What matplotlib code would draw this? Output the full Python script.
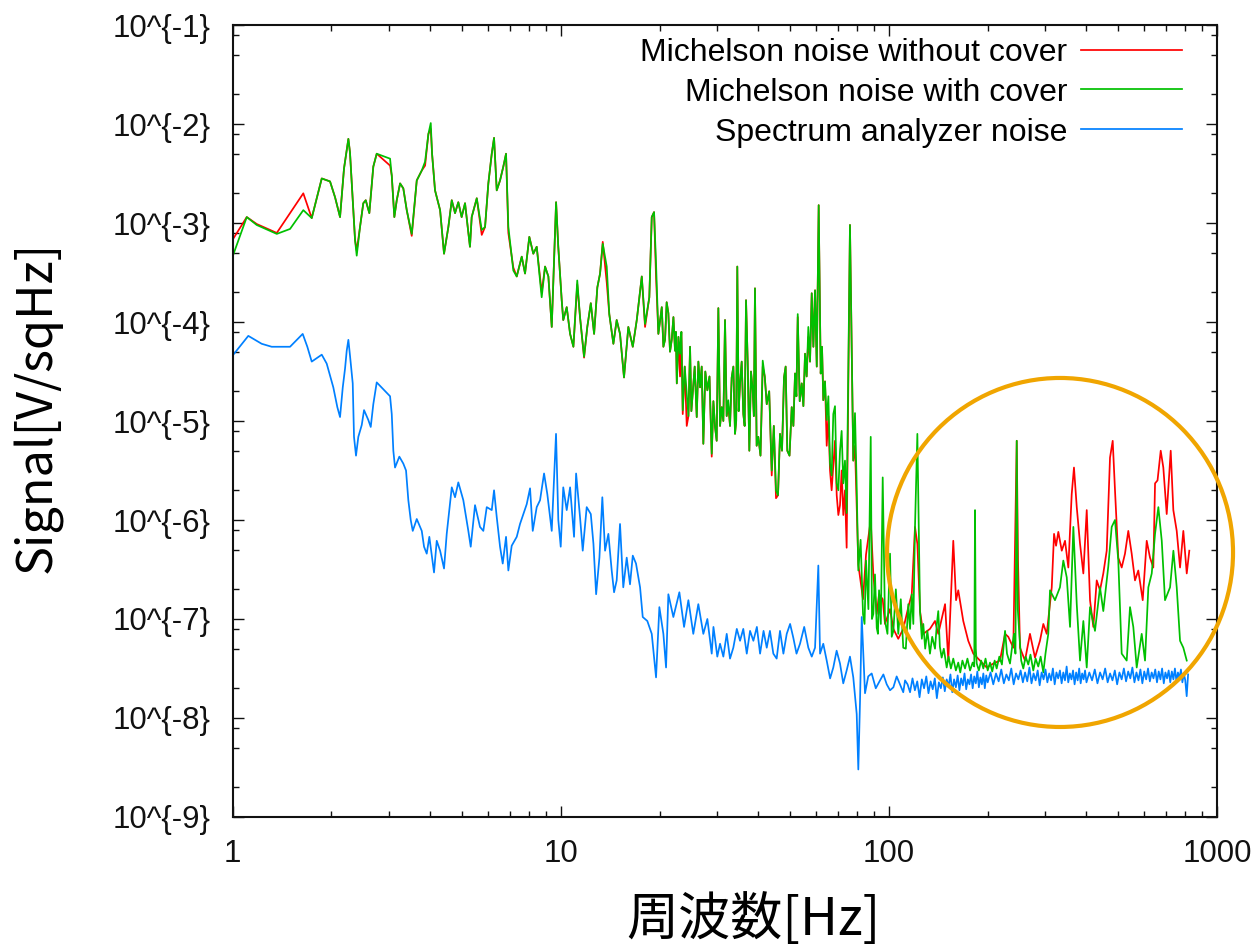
import numpy as np
import matplotlib
matplotlib.use("Agg")
import matplotlib.pyplot as plt
from matplotlib.ticker import LogLocator, NullFormatter
from matplotlib.patches import Ellipse

plt.rcParams["font.family"] = ["Liberation Sans", "Noto Sans CJK JP", "DejaVu Sans"]

# ---------------------------------------------------------------------------
# Amplitude spectral densities, stored as (frequency [Hz], log10(signal [V/sqHz]))
# Below 75 Hz both Michelson traces share the same frequency bins:
# (frequency, without cover, with cover)
michelson_low = [
    (1.00, -3.17, -3.34), (1.105, -2.94, -2.94), (1.185, -3.01, -3.02),
    (1.364, -3.10, -3.11), (1.497, -2.90, -3.06), (1.643, -2.70, -2.87),
    (1.743, -2.95, -2.95), (1.870, -2.55, -2.55), (1.982, -2.58, -2.58),
    (2.053, -2.74, -2.74), (2.126, -2.94, -2.94), (2.186, -2.45, -2.45),
    (2.254, -2.15, -2.15), (2.280, -2.29, -2.29), (2.362, -3.17, -3.17),
    (2.390, -3.28, -3.33), (2.446, -3.04, -3.04), (2.503, -2.80, -2.80),
    (2.546, -2.77, -2.77), (2.611, -2.90, -2.90), (2.685, -2.43, -2.43),
    (2.750, -2.30, -2.30), (3.020, -2.42, -2.35), (3.056, -2.52, -2.52),
    (3.090, -2.77, -2.77), (3.112, -2.94, -2.94), (3.165, -2.77, -2.77),
    (3.240, -2.60, -2.60), (3.314, -2.65, -2.65), (3.395, -2.87, -2.87),
    (3.516, -3.13, -3.11), (3.642, -2.57, -2.57), (3.772, -2.47, -2.47),
    (3.861, -2.42, -2.38), (3.952, -2.10, -2.10), (4.018, -2.05, -1.99),
    (4.055, -2.30, -2.30), (4.140, -2.67, -2.67), (4.290, -2.87, -2.87),
    (4.410, -3.31, -3.31), (4.546, -3.04, -3.04), (4.656, -2.77, -2.77),
    (4.764, -2.90, -2.90), (4.875, -2.79, -2.79), (4.990, -2.94, -2.94),
    (5.110, -2.80, -2.80), (5.290, -3.24, -3.24), (5.355, -2.94, -2.94),
    (5.549, -2.75, -2.75), (5.746, -3.12, -3.07), (5.881, -3.04, -3.04),
    (6.018, -2.60, -2.60), (6.164, -2.30, -2.30), (6.264, -2.14, -2.14),
    (6.383, -2.67, -2.67), (6.533, -2.57, -2.57), (6.685, -2.43, -2.43),
    (6.814, -2.30, -2.30), (6.925, -3.10, -3.04), (7.171, -3.45, -3.48),
    (7.345, -3.54, -3.54), (7.607, -3.34, -3.34), (7.786, -3.51, -3.51),
    (8.023, -3.14, -3.14), (8.250, -3.31, -3.31), (8.450, -3.24, -3.24),
    (8.750, -3.70, -3.75), (8.960, -3.44, -3.44), (9.170, -3.54, -3.54),
    (9.390, -4.05, -4.05), (9.680, -2.79, -2.79), (9.830, -3.24, -3.24),
    (10.07, -3.78, -3.78), (10.18, -3.98, -3.98), (10.43, -3.85, -3.85),
    (10.68, -4.12, -4.12), (10.93, -4.25, -4.25), (11.23, -3.62, -3.58),
    (11.45, -3.95, -3.95), (11.78, -4.36, -4.35), (12.05, -4.05, -4.05),
    (12.35, -3.81, -3.81), (12.64, -4.12, -4.12), (12.93, -3.65, -3.65),
    (13.18, -3.51, -3.51), (13.43, -3.19, -3.21), (13.81, -3.60, -3.44),
    (14.06, -3.92, -3.92), (14.47, -4.22, -4.22), (14.81, -3.98, -3.98),
    (15.16, -4.12, -4.12), (15.59, -4.56, -4.56), (16.07, -4.05, -4.05),
    (16.58, -4.25, -4.25), (17.05, -3.98, -3.98), (17.66, -3.54, -3.54),
    (18.07, -4.05, -4.02), (18.62, -3.75, -3.75), (18.94, -2.94, -2.94),
    (19.25, -2.89, -2.89), (19.52, -3.55, -3.41), (19.84, -4.12, -4.12),
    (20.32, -3.85, -3.85), (20.55, -4.25, -4.25), (20.79, -4.18, -4.18),
    (21.03, -3.80, -3.80), (21.28, -3.91, -3.91), (21.53, -4.30, -4.30),
    (21.79, -4.18, -4.18), (22.05, -3.95, -3.95), (22.30, -4.29, -4.29),
    (22.44, -4.10, -4.10), (22.58, -4.62, -4.62), (22.84, -4.15, -4.15),
    (23.10, -4.55, -4.32), (23.32, -4.10, -4.10), (23.54, -4.93, -4.89),
    (23.87, -4.45, -4.45), (24.21, -5.05, -4.72), (24.50, -4.95, -4.95),
    (24.78, -4.25, -4.25), (25.01, -4.90, -4.90), (25.25, -4.72, -4.72),
    (25.60, -4.45, -4.45), (25.97, -4.96, -4.96), (26.27, -4.40, -4.40),
    (26.58, -4.66, -4.66), (26.89, -4.45, -4.45), (27.20, -5.23, -5.23),
    (27.58, -4.50, -4.50), (27.98, -4.69, -4.69), (28.40, -4.55, -4.55),
    (28.85, -5.36, -5.33), (29.19, -4.80, -4.80), (29.53, -5.06, -5.06),
    (29.87, -5.20, -5.20), (30.22, -3.86, -3.86), (30.58, -5.05, -5.05),
    (30.95, -4.86, -4.86), (31.30, -5.00, -5.00), (31.67, -3.98, -3.98),
    (32.04, -4.95, -4.95), (32.41, -4.85, -4.79), (32.80, -5.05, -5.05),
    (33.19, -4.56, -4.56), (33.58, -4.45, -4.45), (33.97, -5.13, -5.13),
    (34.25, -5.00, -5.00), (34.52, -3.44, -3.44), (34.85, -4.90, -4.90),
    (35.19, -4.62, -4.62), (35.60, -4.40, -4.40), (36.01, -4.93, -4.93),
    (36.35, -5.05, -5.05), (36.70, -3.78, -3.78), (37.13, -4.40, -4.40),
    (37.56, -5.30, -5.30), (38.00, -4.50, -4.50), (38.46, -4.69, -4.69),
    (38.77, -4.95, -4.95), (39.08, -3.66, -3.66), (39.54, -5.25, -5.25),
    (40.00, -5.16, -5.16), (40.62, -5.35, -5.35), (41.26, -4.45, -4.39),
    (41.85, -4.55, -4.55), (42.44, -4.83, -4.83), (43.18, -4.70, -4.70),
    (43.95, -5.55, -5.50), (44.60, -5.05, -5.05), (45.29, -5.78, -5.70),
    (45.93, -5.75, -5.75), (46.58, -5.13, -5.13), (47.24, -5.30, -5.30),
    (47.91, -4.56, -4.56), (48.46, -4.45, -4.45), (49.03, -5.30, -5.30),
    (49.79, -5.35, -5.35), (50.57, -4.86, -4.86), (51.16, -5.05, -5.05),
    (51.76, -4.52, -4.52), (52.25, -4.75, -4.75), (52.75, -3.95, -3.92),
    (53.49, -4.80, -4.80), (54.25, -4.62, -4.62), (54.88, -4.85, -4.85),
    (55.52, -4.32, -4.32), (56.16, -4.55, -4.55), (56.82, -4.15, -4.05),
    (57.50, -4.40, -4.40), (58.19, -3.71, -3.71), (58.87, -4.25, -4.25),
    (59.56, -3.68, -3.68), (60.28, -4.45, -4.45), (61.10, -2.82, -2.82),
    (61.98, -4.52, -4.52), (62.55, -4.25, -4.25), (63.12, -4.79, -4.79),
    (63.87, -4.60, -4.60), (64.64, -5.25, -4.99), (65.40, -4.95, -4.75),
    (66.16, -5.50, -5.43), (66.92, -5.70, -5.55), (67.70, -5.45, -4.93),
    (68.51, -5.20, -4.85), (69.34, -5.75, -5.63), (70.14, -5.95, -5.70),
    (70.96, -5.85, -5.30), (71.78, -5.50, -5.10), (72.62, -5.95, -5.63),
    (73.48, -5.70, -5.40), (74.35, -6.28, -5.93),
]

# Above 75 Hz: (frequency, log10 signal)
without_cover_high = [
    (76.1, -3.02), (77.89, -5.40), (78.83, -5.25), (80.69, -6.45), (83.39, -6.80),
    (85.17, -6.35), (88.03, -6.00), (89.65, -6.55), (91.82, -6.95), (93.32, -6.75),
    (95.75, -6.80), (97.3, -7.05), (100.8, -6.90), (103.2, -7.10), (106.8, -7.20),
    (110.6, -7.10), (114.6, -6.88), (117.4, -6.75), (120.1, -6.07), (122.1, -6.24),
    (124.4, -6.92), (127.3, -7.15), (133.4, -7.10), (138.2, -7.02), (141.4, -7.15),
    (148.3, -6.85), (151.7, -7.42), (157.1, -6.21), (160.2, -6.81), (162.7, -6.71),
    (168.5, -7.02), (174.5, -7.22), (180.8, -7.35), (189.5, -7.42), (198.6, -7.49),
    (208.0, -7.45), (218.0, -7.42), (225.9, -7.15), (231.1, -7.18), (239.4, -7.29),
    (245.2, -5.20), (247.4, -6.41), (250.9, -7.29), (259.8, -7.42), (269.1, -7.15),
    (278.7, -7.39), (288.6, -7.22), (295.5, -7.05), (302.7, -7.15), (313.5, -6.68),
    (318.6, -6.14), (323.1, -6.26), (328.3, -6.12), (336.3, -6.31), (344.1, -6.21),
    (352.2, -6.48), (360.6, -5.74), (366.4, -5.47), (373.6, -5.87), (382.3, -6.24),
    (391.3, -6.54), (400.7, -5.90), (410.1, -6.81), (419.7, -7.08), (429.8, -6.61),
    (439.8, -6.71), (450.1, -6.54), (461.0, -6.31), (471.8, -5.37), (480.8, -5.20),
    (488.6, -5.70), (500.0, -6.38), (512.1, -6.48), (524.1, -6.34), (536.4, -6.11),
    (549.3, -6.34), (562.2, -6.61), (575.4, -6.51), (593.5, -6.81), (610.4, -6.21),
    (624.6, -6.38), (639.3, -6.48), (647.1, -5.63), (658.5, -5.60), (673.4, -5.30),
    (685.8, -5.47), (702.3, -5.94), (722.3, -5.30), (735.7, -5.90), (753.4, -6.11),
    (771.2, -6.48), (789.2, -6.11), (808.3, -6.54), (823.0, -6.31),
]

with_cover_high = [
    (76.1, -3.02), (77.89, -5.40), (78.83, -4.92), (79.7, -5.60), (80.69, -6.51),
    (82.0, -6.20), (83.39, -6.95), (84.3, -7.05), (85.17, -6.41), (86.6, -6.90),
    (88.03, -5.16), (88.8, -7.00), (89.65, -6.95), (90.7, -6.55), (91.82, -7.09),
    (92.6, -7.15), (93.32, -6.71), (94.5, -7.05), (95.75, -5.57), (97.3, -7.02),
    (99.0, -7.15), (100.8, -6.34), (102.0, -7.18), (103.2, -7.12), (105.0, -6.70),
    (106.8, -7.15), (108.7, -6.80), (110.6, -7.29), (112.6, -7.30), (114.6, -6.85),
    (116.0, -7.10), (117.4, -6.75), (118.7, -7.05), (120.1, -6.07), (122.1, -5.13),
    (124.4, -6.92), (126.0, -7.20), (127.3, -7.05), (129.0, -7.30), (131.0, -7.12),
    (133.4, -7.35), (135.5, -7.18), (138.2, -7.30), (140.0, -7.05), (141.4, -6.92),
    (143.0, -7.28), (144.8, -7.39), (147.0, -7.30), (150.0, -7.49), (152.0, -7.38),
    (154.5, -7.50), (157.1, -7.40), (160.0, -7.52), (162.7, -7.44), (165.0, -7.54),
    (167.5, -7.42), (170.6, -7.50), (173.5, -7.40), (176.7, -7.52), (180.0, -7.44),
    (182.0, -7.48), (183.0, -5.90), (184.0, -7.30), (185.2, -7.45), (188.0, -7.52),
    (191.0, -7.42), (194.0, -7.50), (197.0, -7.40), (200.0, -7.52), (203.3, -7.44),
    (206.5, -7.53), (210.0, -7.42), (213.0, -7.50), (217.0, -7.38), (221.0, -7.46),
    (225.9, -7.12), (229.0, -7.35), (233.9, -7.45), (237.0, -7.30), (240.6, -7.15),
    (243.0, -7.35), (245.2, -5.20), (247.0, -6.90), (249.7, -7.15), (253.0, -7.42),
    (256.8, -7.50), (261.0, -7.38), (265.9, -7.46), (270.0, -7.36), (275.4, -7.52),
    (280.0, -7.40), (285.2, -7.48), (290.0, -7.38), (295.5, -7.54), (300.0, -7.35),
    (306.0, -7.15), (309.7, -6.71), (320.7, -6.81), (332.1, -6.68),
    (340.0, -6.41), (348.3, -6.58), (356.4, -7.08), (364.8, -6.07), (373.6, -6.85),
    (382.3, -7.42), (391.3, -7.02), (400.7, -7.49), (410.1, -6.88), (424.6, -7.12),
    (439.8, -6.68), (450.1, -6.92), (466.1, -6.47), (477.4, -6.07), (488.6, -6.00),
    (500.0, -6.41), (512.1, -7.35), (530.4, -7.42), (542.9, -6.88), (555.6, -7.08),
    (569.0, -7.49), (589.3, -7.15), (603.2, -7.42), (617.4, -6.68), (632.3, -6.54),
    (647.1, -6.14), (662.3, -5.87), (678.3, -6.21), (694.0, -6.81), (719.0, -6.68),
    (736.0, -6.31), (753.4, -6.68), (771.2, -7.22), (789.2, -7.29), (808.3, -7.42),
]

analyzer = [
    (1.0, -4.34), (1.117, -4.14), (1.227, -4.22), (1.316, -4.25), (1.497, -4.25),
    (1.636, -4.12), (1.69, -4.25), (1.743, -4.40), (1.87, -4.33), (1.936, -4.42),
    (2.028, -4.66), (2.086, -4.86), (2.126, -4.96), (2.167, -4.66), (2.202, -4.47),
    (2.228, -4.29), (2.254, -4.18), (2.28, -4.34), (2.324, -4.62), (2.345, -5.16),
    (2.378, -5.35), (2.417, -5.16), (2.476, -5.04), (2.516, -4.89), (2.593, -4.99),
    (2.637, -5.06), (2.685, -4.83), (2.75, -4.61), (3.02, -4.75), (3.056, -4.93),
    (3.09, -5.30), (3.127, -5.47), (3.223, -5.36), (3.314, -5.43), (3.378, -5.50),
    (3.433, -5.80), (3.491, -6.00), (3.541, -6.11), (3.642, -5.99), (3.772, -6.11),
    (3.833, -6.27), (3.906, -6.34), (3.978, -6.17), (4.111, -6.53), (4.19, -6.21),
    (4.29, -6.31), (4.41, -6.49), (4.494, -6.14), (4.577, -5.90), (4.656, -5.67),
    (4.764, -5.77), (4.875, -5.62), (5.049, -5.80), (5.23, -6.11), (5.318, -6.27),
    (5.481, -5.85), (5.676, -6.07), (5.81, -6.11), (5.951, -5.87), (6.164, -5.90),
    (6.264, -5.70), (6.383, -5.97), (6.533, -6.27), (6.657, -6.44), (6.814, -6.17),
    (6.925, -6.51), (7.09, -6.26), (7.345, -6.17), (7.516, -6.04), (7.693, -5.94),
    (7.878, -5.84), (8.064, -5.68), (8.218, -6.11), (8.45, -5.87), (8.65, -5.80),
    (8.897, -5.53), (9.104, -5.74), (9.389, -6.11), (9.676, -5.13), (9.833, -6.00),
    (10.0, -6.27), (10.18, -5.67), (10.43, -5.90), (10.68, -5.67), (10.98, -6.17),
    (11.14, -5.53), (11.45, -5.97), (11.67, -6.31), (12.0, -5.87), (12.35, -5.94),
    (12.58, -6.24), (12.82, -6.75), (13.12, -6.38), (13.39, -5.77), (13.65, -6.31),
    (13.97, -6.14), (14.3, -6.51), (14.54, -6.73), (14.81, -6.61), (15.16, -6.04),
    (15.51, -6.68), (15.89, -6.38), (16.26, -6.65), (16.58, -6.36), (16.96, -6.44),
    (17.45, -6.68), (17.78, -6.98), (18.36, -7.02), (18.94, -7.15), (19.52, -7.59),
    (19.98, -6.88), (20.55, -7.15), (20.94, -7.49), (21.28, -6.75), (22.04, -6.98),
    (22.99, -6.73), (23.76, -7.08), (24.49, -6.81), (25.35, -7.15), (26.26, -6.85),
    (27.2, -7.15), (27.98, -7.00), (28.85, -7.35), (29.2, -7.08), (29.53, -7.20),
    (30.0, -7.38), (30.58, -7.25), (31.3, -7.38), (32.05, -7.15), (32.8, -7.40),
    (33.57, -7.29), (34.4, -7.10), (35.19, -7.22), (36.0, -7.10), (36.89, -7.35),
    (37.75, -7.12), (38.64, -7.22), (39.6, -7.08), (40.5, -7.35), (41.5, -7.12),
    (42.44, -7.29), (43.4, -7.12), (44.45, -7.35), (45.5, -7.40), (46.58, -7.12),
    (47.7, -7.35), (48.83, -7.15), (50.0, -7.05), (51.14, -7.19), (52.3, -7.35),
    (53.6, -7.25), (55.2, -7.08), (56.82, -7.29), (58.2, -7.38), (59.56, -7.29),
    (60.95, -6.46), (61.68, -7.35), (63.1, -7.25), (64.64, -7.42), (66.2, -7.60),
    (67.7, -7.49), (69.3, -7.32), (70.96, -7.45), (72.6, -7.65), (74.35, -7.52),
    (76.1, -7.38), (77.89, -7.59), (79.78, -7.96), (80.69, -8.52), (81.66, -7.83),
    (82.65, -6.98), (84.57, -7.75), (86.5, -7.58), (88.63, -7.55), (91.2, -7.70),
    (93.97, -7.62), (96.2, -7.56), (98.49, -7.66), (100.8, -7.72), (103.2, -7.69),
    (105.6, -7.58), (108.1, -7.66), (110.6, -7.74), (112.0, -7.62),
    # 114-200 Hz
    (114, -7.66), (116, -7.74), (118, -7.60), (120, -7.72), (122, -7.63),
    (124, -7.79), (126, -7.61), (128, -7.70), (130, -7.58), (132, -7.75),
    (134, -7.63), (136, -7.71), (138, -7.60), (140, -7.80), (142, -7.64),
    (144, -7.70), (146, -7.59), (148, -7.73), (150, -7.61), (152, -7.68),
    (154, -7.56), (156, -7.74), (158, -7.61), (160, -7.69), (162, -7.57),
    (164, -7.72), (166, -7.60), (168, -7.67), (170, -7.55), (172, -7.71),
    (174, -7.61), (176, -7.66), (178, -7.56), (180, -7.70), (182, -7.58),
    (184, -7.65), (186, -7.53), (188, -7.69), (190, -7.59), (192, -7.66),
    (194, -7.55), (196, -7.70), (198, -7.57), (200, -7.64),
    # 204-400 Hz
    (204, -7.54), (208, -7.66), (212, -7.55), (216, -7.63), (220, -7.51),
    (224, -7.65), (228, -7.56), (232, -7.62), (236, -7.50), (240, -7.66),
    (244, -7.55), (248, -7.61), (252, -7.52), (256, -7.64), (260, -7.54),
    (264, -7.63), (268, -7.49), (272, -7.65), (276, -7.55), (280, -7.62),
    (284, -7.52), (288, -7.67), (292, -7.54), (296, -7.61), (300, -7.51),
    (304, -7.64), (308, -7.55), (312, -7.62), (316, -7.50), (320, -7.66),
    (324, -7.54), (328, -7.60), (332, -7.52), (336, -7.65), (340, -7.54),
    (344, -7.62), (348, -7.48), (352, -7.64), (356, -7.55), (360, -7.61),
    (364, -7.52), (368, -7.66), (372, -7.54), (376, -7.62), (380, -7.50),
    (384, -7.65), (388, -7.55), (392, -7.61), (396, -7.52), (400, -7.64),
    # 408-816 Hz
    (408, -7.54), (416, -7.62), (424, -7.51), (432, -7.65), (440, -7.54),
    (448, -7.61), (456, -7.50), (464, -7.64), (472, -7.55), (480, -7.62),
    (488, -7.52), (496, -7.66), (504, -7.54), (512, -7.61), (520, -7.50),
    (528, -7.63), (536, -7.53), (544, -7.60), (552, -7.49), (560, -7.64),
    (568, -7.54), (576, -7.62), (584, -7.51), (592, -7.65), (600, -7.53),
    (608, -7.61), (616, -7.50), (624, -7.63), (632, -7.54), (640, -7.60),
    (648, -7.51), (656, -7.64), (664, -7.53), (672, -7.61), (680, -7.50),
    (688, -7.65), (696, -7.54), (704, -7.60), (712, -7.52), (720, -7.64),
    (728, -7.53), (736, -7.61), (744, -7.50), (752, -7.63), (760, -7.54),
    (768, -7.60), (776, -7.51), (784, -7.64), (792, -7.55), (800, -7.62),
    (808, -7.78), (816, -7.56),
]

series_labels = ["Michelson noise without cover", "Michelson noise with cover",
                 "Spectrum analyzer noise"]
series_colors = ["#ff0000", "#00c000", "#0080ff"]

x_ticks = [1, 10, 100, 1000]
x_tick_labels = ["1", "10", "100", "1000"]
y_exponents = list(range(-9, 0))
y_tick_labels = ["10^{%d}" % e for e in y_exponents]

# ---------------------------------------------------------------------------
low = np.array(michelson_low, dtype=float)
low = low[np.argsort(low[:, 0], kind="stable")]
f_low = low[:, 0]


def to_xy(points):
    arr = np.array(points, dtype=float)
    arr = arr[np.argsort(arr[:, 0], kind="stable")]
    return arr[:, 0], 10.0 ** arr[:, 1]


f_hi_wo, v_hi_wo = to_xy(without_cover_high)
f_hi_w, v_hi_w = to_xy(with_cover_high)
f_sa, v_sa = to_xy(analyzer)

f_without = np.concatenate([f_low, f_hi_wo])
v_without = np.concatenate([10.0 ** low[:, 1], v_hi_wo])
f_with = np.concatenate([f_low, f_hi_w])
v_with = np.concatenate([10.0 ** low[:, 2], v_hi_w])

fig = plt.figure(figsize=(12.59, 9.48), dpi=100)
ax = fig.add_axes([0.1847, 0.1382, 0.7820, 0.8354])

lw = 1.25
ax.plot(f_without, v_without, color=series_colors[0], lw=lw, label=series_labels[0])
ax.plot(f_with, v_with, color=series_colors[1], lw=lw, label=series_labels[1])
ax.plot(f_sa, v_sa, color=series_colors[2], lw=lw, label=series_labels[2])

ax.set_xscale("log")
ax.set_yscale("log")
ax.set_xlim(1, 1000)
ax.set_ylim(1e-9, 1e-1)

ax.set_xticks(x_ticks)
ax.set_xticklabels(x_tick_labels)
ax.set_yticks([10.0 ** e for e in y_exponents])
ax.set_yticklabels(y_tick_labels)
ax.xaxis.set_minor_locator(LogLocator(base=10, subs=(2, 3, 4, 5, 6, 7, 8, 9), numticks=20))
ax.yaxis.set_minor_locator(LogLocator(base=10, subs=(2, 5, 8), numticks=20))
ax.xaxis.set_minor_formatter(NullFormatter())
ax.yaxis.set_minor_formatter(NullFormatter())

ax.tick_params(which="both", direction="in", top=True, right=True, colors="#111111")
ax.tick_params(which="major", length=8, width=1.0, pad=16, labelsize=22.5)
ax.tick_params(which="minor", length=4.5, width=1.0)
for sp in ax.spines.values():
    sp.set_linewidth(1.5)
    sp.set_color("#111111")

ax.set_xlabel("周波数[Hz]", fontsize=37.5, family=["Noto Sans CJK JP", "DejaVu Sans"],
              va="center")
ax.xaxis.set_label_coords(0.5287, -0.130)
ax.set_ylabel("Signal[V/sqHz]", fontsize=35, family=["Noto Sans CJK JP", "DejaVu Sans"],
              va="center")
ax.yaxis.set_label_coords(-0.1976, 0.5177)

leg = ax.legend(loc="upper right", bbox_to_anchor=(0.9645, 0.984), markerfirst=False,
                frameon=False, handlelength=3.15, handletextpad=0.45, labelspacing=0.31,
                borderaxespad=0, borderpad=0,
                prop={"family": "Liberation Sans", "size": 23})

# Highlight of the high-frequency band
ax.add_patch(Ellipse((0.8405, 0.334), 0.3514, 0.4407, transform=ax.transAxes,
                     fill=False, ec="#f0a500", lw=3.0, clip_on=False, zorder=5))

fig.savefig("out.png", dpi=100)
